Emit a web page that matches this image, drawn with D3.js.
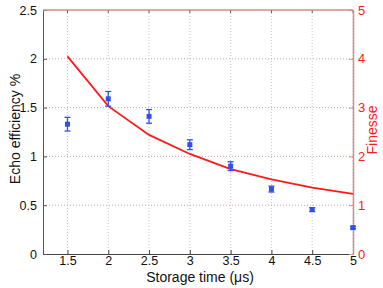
<!DOCTYPE html>
<meta charset="utf-8">
<script src="https://d3js.org/d3.v7.min.js"></script>
<style>
  body { margin: 0; background: #fff; }
  text { font-family: "Liberation Sans", Arial, sans-serif; }
</style>
<svg id="chart" width="383" height="288"></svg>
<script>
// storage time (us)
var times = [1.5, 2, 2.5, 3, 3.5, 4, 4.5, 5];
// echo efficiency % and its error
var efficiency = [1.33, 1.59, 1.41, 1.12, 0.90, 0.665, 0.455, 0.27];
var effError = [0.07, 0.075, 0.07, 0.05, 0.045, 0.03, 0.02, 0.012];
// finesse (right axis)
var finesse = [4.05, 3.03, 2.44, 2.05, 1.74, 1.53, 1.36, 1.23];

var xTicks = [1.5, 2, 2.5, 3, 3.5, 4, 4.5, 5];
var yTicks = [0, 0.5, 1, 1.5, 2, 2.5];
var y2Ticks = [0, 1, 2, 3, 4, 5];

var margin = {top: 10, right: 30, bottom: 34, left: 43},
    width = 353 - margin.left,
    height = 254 - margin.top;

var svg = d3.select("#chart")
  .append("g")
  .attr("transform", "translate(" + margin.left + "," + margin.top + ")");

var x = d3.scaleLinear().domain([1.2, 5]).range([0, width]);
var y = d3.scaleLinear().domain([0, 2.5]).range([height, 0]);
var y2 = d3.scaleLinear().domain([0, 5]).range([height, 0]);

var red = "#ff1a1a";
var blue = "#2f4ff0";

// grid lines
svg.append("g").selectAll("line")
  .data(xTicks)
  .enter().append("line")
  .attr("x1", d => x(d)).attr("x2", d => x(d))
  .attr("y1", 0).attr("y2", height)
  .attr("stroke", "#c8c8c8")
  .attr("stroke-width", 1)
  .attr("stroke-dasharray", "1,2");

svg.append("g").selectAll("line")
  .data(yTicks.slice(1, -1))
  .enter().append("line")
  .attr("x1", 0).attr("x2", width)
  .attr("y1", d => y(d)).attr("y2", d => y(d))
  .attr("stroke", "#dca0a0")
  .attr("stroke-width", 1)
  .attr("stroke-dasharray", "1,2");

// bottom axis
var xAxis = svg.append("g")
  .attr("transform", "translate(0," + height + ")")
  .call(d3.axisBottom(x).tickValues(xTicks).tickSizeInner(-4).tickSizeOuter(0)
    .tickFormat(d3.format("")).tickPadding(2));
xAxis.select(".domain").attr("stroke", "#444");
xAxis.selectAll(".tick line").attr("stroke", "#444");
xAxis.selectAll("text").attr("font-size", 12.5).attr("fill", "#111");

// top ticks
svg.append("g").selectAll("line")
  .data(xTicks)
  .enter().append("line")
  .attr("x1", d => x(d)).attr("x2", d => x(d))
  .attr("y1", 0).attr("y2", 3)
  .attr("stroke", "#555");

// left axis
var yAxis = svg.append("g")
  .call(d3.axisLeft(y).tickValues(yTicks).tickSizeInner(-4).tickSizeOuter(0)
    .tickFormat(d3.format("")).tickPadding(6));
yAxis.select(".domain").attr("stroke", "#555");
yAxis.selectAll(".tick line").attr("stroke", "#555");
yAxis.selectAll("text").attr("font-size", 12.5).attr("fill", "#111");

// right axis (red)
var y2Axis = svg.append("g")
  .attr("transform", "translate(" + width + ",0)")
  .call(d3.axisRight(y2).tickValues(y2Ticks).tickSizeInner(-4).tickSizeOuter(0)
    .tickFormat(d3.format("")).tickPadding(5));
y2Axis.select(".domain").attr("stroke", "#d08c8c").attr("stroke-width", 1.5);
y2Axis.selectAll(".tick line").attr("stroke", "#d08c8c");
y2Axis.selectAll("text").attr("font-size", 13).attr("fill", red);

// top border
svg.append("line")
  .attr("x1", 0).attr("x2", width)
  .attr("y1", 0).attr("y2", 0)
  .attr("stroke", "#d08c8c")
  .attr("stroke-width", 1.5);

// finesse line
svg.append("path")
  .datum(times.map((t, i) => [t, finesse[i]]))
  .attr("fill", "none")
  .attr("stroke", red)
  .attr("stroke-width", 1.8)
  .attr("d", d3.line().x(d => x(d[0])).y(d => y2(d[1])));

// error bars
var pts = times.map((t, i) => ({t: t, v: efficiency[i], e: effError[i]}));
var eb = svg.append("g").selectAll("g")
  .data(pts)
  .enter().append("g")
  .attr("stroke", blue)
  .attr("stroke-width", 1.3);
eb.append("line")
  .attr("x1", d => x(d.t)).attr("x2", d => x(d.t))
  .attr("y1", d => y(d.v - d.e)).attr("y2", d => y(d.v + d.e));
eb.append("line")
  .attr("x1", d => x(d.t) - 3).attr("x2", d => x(d.t) + 3)
  .attr("y1", d => y(d.v - d.e)).attr("y2", d => y(d.v - d.e));
eb.append("line")
  .attr("x1", d => x(d.t) - 3).attr("x2", d => x(d.t) + 3)
  .attr("y1", d => y(d.v + d.e)).attr("y2", d => y(d.v + d.e));

svg.append("g").selectAll("rect")
  .data(pts)
  .enter().append("rect")
  .attr("x", d => x(d.t) - 2.5)
  .attr("y", d => y(d.v) - 2.5)
  .attr("width", 5).attr("height", 5)
  .attr("fill", blue);

// axis labels
svg.append("text")
  .attr("x", width / 2 + 2)
  .attr("y", height + 28)
  .attr("text-anchor", "middle")
  .attr("font-size", 14)
  .attr("fill", "#111")
  .text("Storage time (\u03bcs)");

svg.append("text")
  .attr("transform", "translate(" + (-23) + "," + (height / 2 - 3) + ") rotate(-90)")
  .attr("text-anchor", "middle")
  .attr("font-size", 14)
  .attr("fill", "#111")
  .text("Echo efficiency %");

svg.append("text")
  .attr("transform", "translate(" + (width + 24) + "," + (height / 2 - 2) + ") rotate(-90)")
  .attr("text-anchor", "middle")
  .attr("font-size", 14)
  .attr("fill", red)
  .text("Finesse");
</script>
